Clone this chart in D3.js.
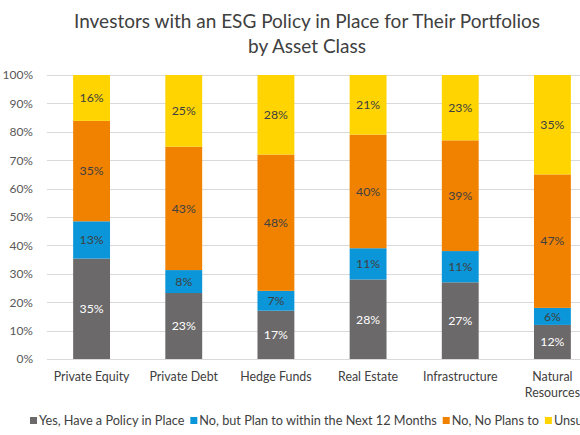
<!DOCTYPE html>
<html><head><meta charset="utf-8">
<script src="https://cdn.jsdelivr.net/npm/d3@7"></script>
<style>body{margin:0;background:#fff;overflow:hidden}svg{display:block}</style>
</head><body>
<script>
const categories = ["Private Equity","Private Debt","Hedge Funds","Real Estate","Infrastructure","Natural Resources"];
const seriesNames = ["Yes, Have a Policy in Place","No, but Plan to within the Next 12 Months","No, No Plans to","Unsure"];
const yesPolicy = [35,23,17,28,27,12];
const planNext12 = [13,8,7,11,11,6];
const noPlans = [35,43,48,40,39,47];
const unsure = [16,25,28,21,23,35];
const yTicks = [0,0.1,0.2,0.3,0.4,0.5,0.6,0.7,0.8,0.9,1];
const colors = ["#6b696a","#0a96d8","#f08200","#ffd400"];
const labelColors = ["#ffffff","#404040","#404040","#404040"];

const W=580,H=435;
const svg=d3.select("body").append("svg").attr("width",W).attr("height",H);
const font="Lato, 'Open Sans', sans-serif";

const rows = categories.map((c,i)=>({cat:c, s0:yesPolicy[i], s1:planNext12[i], s2:noPlans[i], s3:unsure[i]}));
const keys=["s0","s1","s2","s3"];
const stack=d3.stack().keys(keys).offset(d3.stackOffsetExpand)(rows);

const x=d3.scaleBand().domain(categories).range([45.5,598.5]).paddingInner(0.6).paddingOuter(0.3);
const y=d3.scaleLinear().domain([0,1]).range([359,75]);

// title
const title=svg.append("text").attr("x",307).attr("text-anchor","middle")
  .attr("font-family",font).attr("font-size",19).attr("fill","#404040");
title.append("tspan").attr("x",307).attr("y",28).text("Investors with an ESG Policy in Place for Their Portfolios");
title.append("tspan").attr("x",307).attr("y",53).text("by Asset Class");

// gridlines
svg.append("g").selectAll("line").data(yTicks).join("line")
  .attr("x1",47).attr("x2",610).attr("y1",d=>Math.round(y(d))+0.5).attr("y2",d=>Math.round(y(d))+0.5)
  .attr("stroke","#d9d9d9").attr("stroke-width",1);

// y axis labels
const yAxis=d3.axisLeft(y).tickValues(yTicks).tickFormat(d3.format(".0%")).tickSize(0).tickPadding(0);
const ga=svg.append("g").attr("transform","translate(33,0)").call(yAxis);
ga.select(".domain").remove();
ga.selectAll("text").attr("font-family",font).attr("font-size",12).attr("fill","#595959");

// bars
const g=svg.append("g");
stack.forEach((layer,li)=>{
  g.append("g").selectAll("rect").data(layer).join("rect")
    .attr("x",d=>x(d.data.cat)).attr("width",x.bandwidth())
    .attr("y",d=>y(d[1])).attr("height",d=>y(d[0])-y(d[1]))
    .attr("fill",colors[li]);
  g.append("g").selectAll("text").data(layer).join("text")
    .attr("x",d=>x(d.data.cat)+x.bandwidth()/2)
    .attr("y",d=>(y(d[0])+y(d[1]))/2).attr("dy","0.35em")
    .attr("text-anchor","middle").attr("font-family",font).attr("font-size",12.3)
    .attr("fill",labelColors[li]).text(d=>d.data[keys[li]]+"%");
});

// x labels
const xl=svg.append("g");
categories.forEach(c=>{
  const words = c==="Natural Resources" ? ["Natural","Resources"] : [c];
  const t=xl.append("text").attr("text-anchor","middle").attr("font-family",font)
    .attr("font-size",12.4).attr("fill","#404040");
  words.forEach((w,i)=>t.append("tspan").attr("x",x(c)+x.bandwidth()/2).attr("y",381+i*16).text(w));
});

// legend
const lg=svg.append("g");
let lx=30;
seriesNames.forEach((n,i)=>{
  lg.append("rect").attr("x",lx).attr("y",417).attr("width",7).attr("height",7).attr("fill",colors[i]);
  const t=lg.append("text").attr("x",lx+9).attr("y",425).attr("font-family",font).attr("font-size",12.7)
    .attr("fill","#404040").text(n);
  lx += 9 + t.node().getComputedTextLength() + 6;
});
</script>
</body></html>
